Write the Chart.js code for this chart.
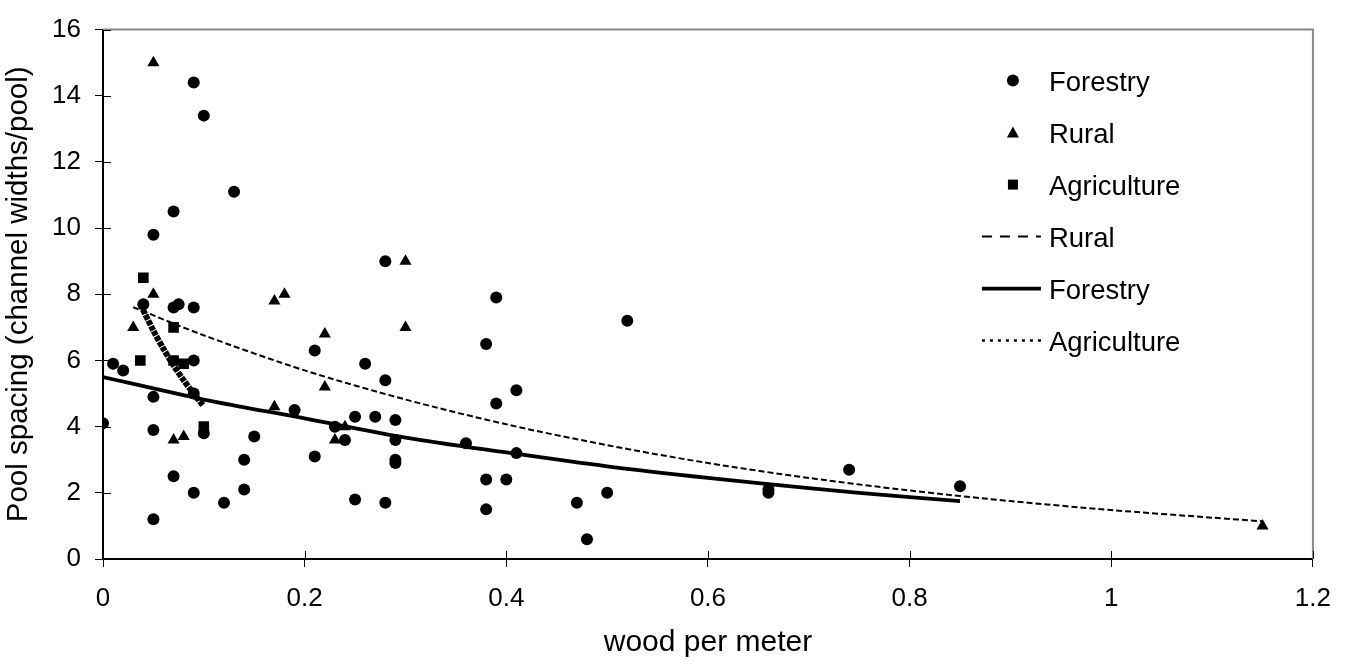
<!DOCTYPE html>
<html>
<head>
<meta charset="utf-8">
<script src="https://cdn.jsdelivr.net/npm/chart.js@4.4.1/dist/chart.umd.min.js"></script>
<style>
  html, body { margin: 0; padding: 0; background: #fff; }
  #wrap { width: 1347px; height: 661px; }
</style>
</head>
<body>
<div id="wrap"><canvas id="myChart"></canvas></div>
<script>
// pools per reach: wood per meter (x) vs channel widths per pool (y)
const forestryX = [0.09, 0.10, 0.13, 0.07, 0.05, 0.04, 0.07, 0.075, 0.09, 0.01, 0.02, 0.09, 0.09, 0.05, 0, 0.05, 0.10, 0.15, 0.14, 0.07,
                   0.09, 0.14, 0.12, 0.05, 0.21, 0.19, 0.21, 0.28, 0.39, 0.38, 0.26, 0.28, 0.41, 0.39, 0.25, 0.27, 0.29, 0.23, 0.24, 0.29,
                   0.36, 0.41, 0.29, 0.29, 0.38, 0.40, 0.25, 0.28, 0.38, 0.52, 0.47, 0.50, 0.48, 0.66, 0.66, 0.74, 0.85]
const forestryY = [14.4, 13.4, 11.1, 10.5, 9.8, 7.7, 7.6, 7.7, 7.6, 5.9, 5.7, 6.0, 5.0, 4.9, 4.1, 3.9, 3.8, 3.7, 3.0, 2.5,
                   2.0, 2.1, 1.7, 1.2, 6.3, 4.5, 3.1, 9.0, 7.9, 6.5, 5.9, 5.4, 5.1, 4.7, 4.3, 4.3, 4.2, 4.0, 3.6, 3.6,
                   3.5, 3.2, 3.0, 2.9, 2.4, 2.4, 1.8, 1.7, 1.5, 7.2, 1.7, 2.0, 0.6, 2.1, 2.0, 2.7, 2.2]
const ruralX = [0.05, 0.05, 0.03, 0.07, 0.08, 0.17, 0.18, 0.22, 0.22, 0.17, 0.30, 0.30, 0.24, 0.23, 1.15]
const ruralY = [15.0, 8.0, 7.0, 3.6, 3.7, 7.8, 8.0, 6.8, 5.2, 4.6, 9.0, 7.0, 4.0, 3.6, 1.0]
const agriX = [0.04, 0.07, 0.037, 0.07, 0.08, 0.10]
const agriY = [8.5, 7.0, 6.0, 6.0, 5.9, 4.0]

// fitted curves
const ruralFitX = [0.03, 0.1, 0.2, 0.3, 0.4, 0.5, 0.6, 0.7, 0.8, 0.9, 1.0, 1.1, 1.15]
const ruralFitY = [7.61, 6.76, 5.70, 4.82, 4.07, 3.44, 2.90, 2.45, 2.07, 1.75, 1.48, 1.25, 1.14]
const forestryFitX = [0, 0.1, 0.2, 0.3, 0.4, 0.5, 0.6, 0.7, 0.8, 0.85]
const forestryFitY = [5.5, 4.82, 4.25, 3.67, 3.22, 2.80, 2.45, 2.14, 1.87, 1.75]
const agriFitX = [0.037, 0.05, 0.06, 0.07, 0.08, 0.09, 0.099]
const agriFitY = [7.7, 6.9, 6.35, 5.85, 5.4, 5.0, 4.65]

const xTickLabels = ['0', '0.2', '0.4', '0.6', '0.8', '1', '1.2']
const yTickLabels = ['0', '2', '4', '6', '8', '10', '12', '14', '16']

const FONT = "'Liberation Sans', Arial, sans-serif"
const pts = (xs, ys) => xs.map((x, i) => ({ x: x, y: ys[i] }))

// legend drawn in the upper right of the plot
const sideLegend = {
  id: 'sideLegend',
  afterDraw(chart) {
    const ctx = chart.ctx
    const area = chart.chartArea
    const textX = area.right - 264
    const markX = area.right - 300
    ctx.save()
    ctx.font = '27.5px ' + FONT
    ctx.fillStyle = '#000'
    ctx.strokeStyle = '#000'
    ctx.textBaseline = 'alphabetic'
    chart.data.datasets.forEach((ds, i) => {
      const y = area.top + 51 + i * 52
      if (ds.showLine) {
        ctx.lineWidth = ds.legendWidth
        ctx.setLineDash(ds.legendDash)
        ctx.beginPath()
        ctx.moveTo(markX - 31, y)
        ctx.lineTo(markX + 28, y)
        ctx.stroke()
        ctx.setLineDash([])
      } else {
        ctx.beginPath()
        if (ds.pointStyle === 'circle') {
          ctx.arc(markX, y, 6, 0, Math.PI * 2)
        } else if (ds.pointStyle === 'triangle') {
          ctx.moveTo(markX, y - 6)
          ctx.lineTo(markX + 6, y + 5)
          ctx.lineTo(markX - 6, y + 5)
          ctx.closePath()
        } else {
          ctx.rect(markX - 5, y - 5, 10, 10)
        }
        ctx.fill()
      }
      ctx.fillText(ds.label, textX, y + 10)
    })
    ctx.restore()
  }
}

// grey frame on top/right and tick marks crossing into the plot
const frameTicks = {
  id: 'frameTicks',
  afterDraw(chart) {
    const ctx = chart.ctx
    const a = chart.chartArea
    const xs = chart.scales.x
    const ys = chart.scales.y
    ctx.save()
    ctx.strokeStyle = '#888'
    ctx.lineWidth = 2
    ctx.beginPath()
    ctx.moveTo(a.left, a.top)
    ctx.lineTo(a.right, a.top)
    ctx.lineTo(a.right, a.bottom)
    ctx.stroke()
    ctx.strokeStyle = '#000'
    ctx.lineWidth = 1
    ctx.beginPath()
    xs.ticks.forEach(t => {
      const px = Math.round(xs.getPixelForValue(t.value)) + 0.5
      ctx.moveTo(px, a.bottom)
      ctx.lineTo(px, a.bottom - 8)
    })
    ys.ticks.forEach(t => {
      const py = Math.round(ys.getPixelForValue(t.value)) + 0.5
      ctx.moveTo(a.left, py)
      ctx.lineTo(a.left + 8, py)
    })
    ctx.stroke()
    ctx.restore()
  }
}

const ctx = document.getElementById('myChart').getContext('2d')
const myChart = new Chart(ctx, {
  type: 'scatter',
  data: {
    datasets: [
      {
        label: 'Forestry',
        data: pts(forestryX, forestryY),
        pointStyle: 'circle',
        pointRadius: 6,
        backgroundColor: '#000',
        borderColor: '#000',
        borderWidth: 0,
        order: 2
      },
      {
        label: 'Rural',
        data: pts(ruralX, ruralY),
        pointStyle: 'triangle',
        pointRadius: 7,
        backgroundColor: '#000',
        borderColor: '#000',
        borderWidth: 0,
        order: 2
      },
      {
        label: 'Agriculture',
        data: pts(agriX, agriY),
        pointStyle: 'rect',
        pointRadius: 7.5,
        backgroundColor: '#000',
        borderColor: '#000',
        borderWidth: 0,
        order: 2
      },
      {
        label: 'Rural',
        data: pts(ruralFitX, ruralFitY),
        showLine: true,
        pointRadius: 0,
        borderColor: '#000',
        borderWidth: 2,
        borderDash: [6, 3],
        tension: 0.3,
        legendDash: [10, 8],
        legendWidth: 2,
        order: 1
      },
      {
        label: 'Forestry',
        data: pts(forestryFitX, forestryFitY),
        showLine: true,
        pointRadius: 0,
        borderColor: '#000',
        borderWidth: 3.8,
        tension: 0.3,
        legendDash: [],
        legendWidth: 3.8,
        order: 1
      },
      {
        label: 'Agriculture',
        data: pts(agriFitX, agriFitY),
        showLine: true,
        pointRadius: 0,
        borderColor: '#000',
        borderWidth: 6,
        borderDash: [5, 1],
        tension: 0.3,
        legendDash: [3, 5],
        legendWidth: 2.5,
        order: 1
      }
    ]
  },
  options: {
    responsive: true,
    maintainAspectRatio: false,
    animation: false,
    layout: { padding: { top: 21, right: 28, left: 0, bottom: 0 } },
    plugins: {
      legend: { display: false },
      tooltip: { enabled: false }
    },
    scales: {
      x: {
        type: 'linear',
        position: 'bottom',
        min: 0,
        max: 1.2,
        afterFit: s => { s.height = 102 },
        ticks: {
          stepSize: 0.2,
          padding: 16,
          color: '#000',
          font: { family: FONT, size: 26 },
          callback: (v, i) => xTickLabels[i]
        },
        grid: { drawOnChartArea: false, tickLength: 8, color: '#000', lineWidth: 1 },
        border: { color: '#000', width: 2 },
        title: {
          display: true,
          text: 'wood per meter',
          color: '#000',
          font: { family: FONT, size: 30 },
          padding: { top: 0, bottom: 0 }
        }
      },
      y: {
        type: 'linear',
        min: 0,
        max: 16,
        afterFit: s => { s.width = 103 },
        ticks: {
          stepSize: 2,
          padding: 14,
          color: '#000',
          font: { family: FONT, size: 26 },
          callback: (v, i) => yTickLabels[i]
        },
        grid: { drawOnChartArea: false, tickLength: 8, color: '#000', lineWidth: 1 },
        border: { color: '#000', width: 2 },
        title: {
          display: true,
          text: 'Pool spacing (channel widths/pool)',
          color: '#000',
          font: { family: FONT, size: 29.5 },
          padding: { top: 1, bottom: 0 }
        }
      }
    }
  },
  plugins: [sideLegend, frameTicks]
})
</script>
</body>
</html>
